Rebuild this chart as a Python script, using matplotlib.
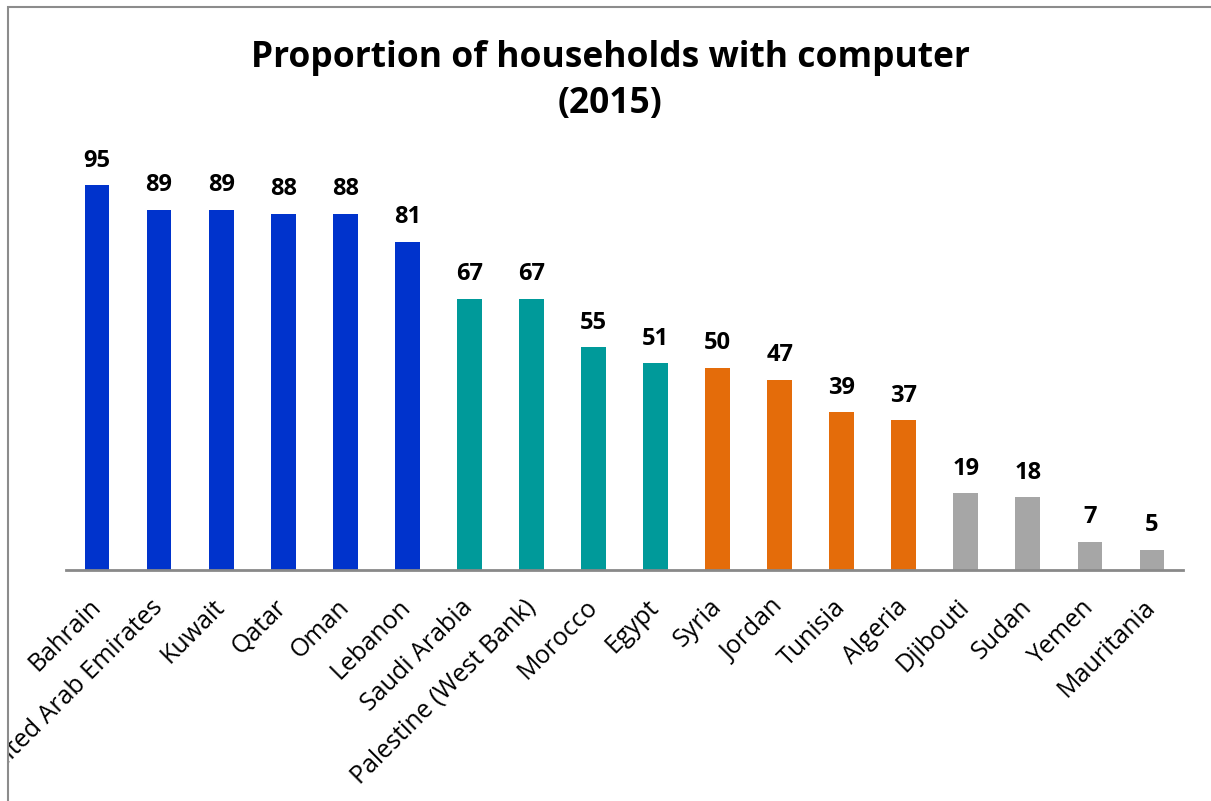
import matplotlib
matplotlib.use("Agg")
import matplotlib.pyplot as plt
from matplotlib.patches import Rectangle

countries = ["Bahrain", "United Arab Emirates", "Kuwait", "Qatar", "Oman", "Lebanon",
             "Saudi Arabia", "Palestine (West Bank)", "Morocco", "Egypt", "Syria",
             "Jordan", "Tunisia", "Algeria", "Djibouti", "Sudan", "Yemen", "Mauritania"]
values = [95, 89, 89, 88, 88, 81, 67, 67, 55, 51, 50, 47, 39, 37, 19, 18, 7, 5]
groups = ["high"] * 6 + ["upper"] * 4 + ["lower"] * 4 + ["low"] * 4
group_colors = {"high": "#0033CC", "upper": "#009A9A", "lower": "#E46C0A", "low": "#A6A6A6"}

plt.rcParams["font.family"] = ["Open Sans", "DejaVu Sans"]

W, H = 1211, 801
fig = plt.figure(figsize=(W / 100, H / 100), dpi=100)

# outer chart frame (only left and top edges fall inside the canvas)
fig.patches.append(Rectangle((8 / W, -0.1), 1.2, 1 - 7 / H + 0.1, transform=fig.transFigure,
                             fill=False, edgecolor="#8C8C8C", linewidth=1.5))

ax = fig.add_axes([66 / W, (H - 570) / H, (1183 - 66) / W, 405 / H])
x = list(range(len(countries)))
bars = ax.bar(x, values, width=0.4, color=[group_colors[g] for g in groups])

for xi, v in zip(x, values):
    ax.annotate(f"{v}", (xi, v), xytext=(0, 9), textcoords="offset points",
                ha="center", va="bottom", fontsize=17, fontweight="bold", clip_on=False)

ax.set_xlim(-0.5, len(countries) - 0.5)
ax.set_ylim(0, 100)
ax.set_yticks([])
for s in ["left", "right", "top"]:
    ax.spines[s].set_visible(False)
ax.spines["bottom"].set_color("#898989")
ax.spines["bottom"].set_linewidth(2)
ax.tick_params(axis="x", length=0, pad=24)
ax.set_xticks(x)
labels = ax.set_xticklabels(countries, rotation=45, ha="right", va="center",
                            rotation_mode="anchor", fontsize=18)
# labels are cut off at the frame's left edge
frame_clip = Rectangle((8 / W, 0), 1, 1, transform=fig.transFigure, visible=False)
fig.patches.append(frame_clip)
for t in labels:
    t.set_clip_path(frame_clip)

fig.text(610 / W, 1 - 81 / H, "Proportion of households with computer\n(2015)",
         ha="center", va="center", fontsize=25.5, fontweight="bold", linespacing=1.35)

fig.savefig("out.png", dpi=100)
